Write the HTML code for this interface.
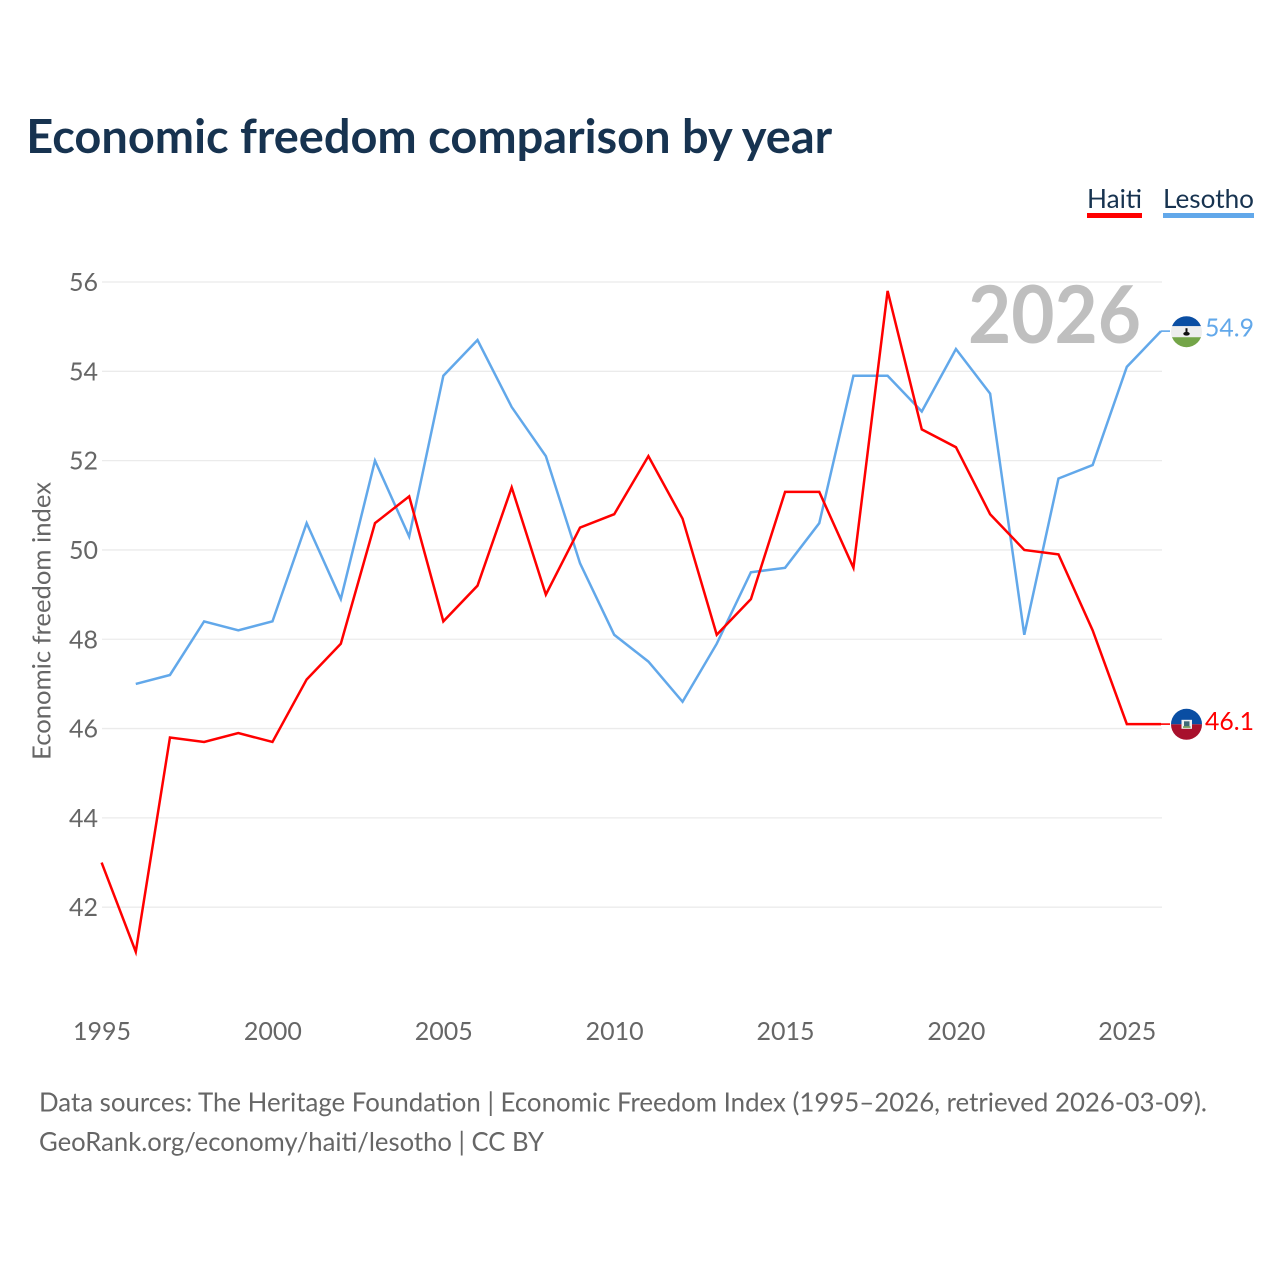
<!DOCTYPE html>
<html>
<head>
<meta charset="utf-8">
<title>Economic freedom comparison by year</title>
<style>
html,body{margin:0;padding:0;background:#fff;width:1280px;height:1280px;overflow:hidden}
svg{display:block;font-family:"Lato","Carlito","Liberation Sans",sans-serif}
</style>
</head>
<body>
<svg id="chart" width="1280" height="1280" viewBox="0 0 1280 1280" xmlns="http://www.w3.org/2000/svg">
  <defs>
    <clipPath id="flag-clip"><circle cx="0" cy="0" r="15.5"/></clipPath>
  </defs>
  <text x="26.2" y="153" font-size="47" font-weight="700" fill="#173350" textLength="806" lengthAdjust="spacingAndGlyphs">Economic freedom comparison by year</text>
  <g>
    <g>
      <text x="1087" y="208" font-size="26" fill="#173350" textLength="55" lengthAdjust="spacingAndGlyphs">Haiti</text>
      <rect x="1087" y="213" width="55" height="5" fill="#ff0000"/>
    </g>
    <g>
      <text x="1163" y="208" font-size="26" fill="#173350" textLength="91" lengthAdjust="spacingAndGlyphs">Lesotho</text>
      <rect x="1163" y="213" width="91" height="5" fill="#62a8ea"/>
    </g>
  </g>
  <g id="grid"></g>
  <text x="968" y="343" font-size="80" font-weight="700" fill="#bfbfbf" textLength="173" lengthAdjust="spacingAndGlyphs">2026</text>
  <g id="y-axis"></g>
  <g id="x-axis"></g>
  <text transform="translate(50.5,760) rotate(-90)" x="0" y="0" font-size="25" fill="#666666" textLength="278" lengthAdjust="spacingAndGlyphs">Economic freedom index</text>
  <g id="series"></g>
  <g id="end-labels"></g>
  <text x="39" y="1111.5" font-size="26" fill="#666666" textLength="1168" lengthAdjust="spacingAndGlyphs">Data sources: The Heritage Foundation | Economic Freedom Index (1995–2026, retrieved 2026-03-09).</text>
  <text x="39" y="1151" font-size="26" fill="#666666" textLength="505" lengthAdjust="spacingAndGlyphs">GeoRank.org/economy/haiti/lesotho | CC BY</text>
</svg>
<script>
const years = [1995,1996,1997,1998,1999,2000,2001,2002,2003,2004,2005,2006,2007,2008,2009,2010,2011,2012,2013,2014,2015,2016,2017,2018,2019,2020,2021,2022,2023,2024,2025,2026];
const haitiValues = [43,41,45.8,45.7,45.9,45.7,47.1,47.9,50.6,51.2,48.4,49.2,51.4,49,50.5,50.8,52.1,50.7,48.1,48.9,51.3,51.3,49.6,55.8,52.7,52.3,50.8,50,49.9,48.2,46.1,46.1];
const lesothoValues = [null,47,47.2,48.4,48.2,48.4,50.6,48.9,52,50.3,53.9,54.7,53.2,52.1,49.7,48.1,47.5,46.6,47.9,49.5,49.6,50.6,53.9,53.9,53.1,54.5,53.5,48.1,51.6,51.9,54.1,54.9];
const yTicks = [42,44,46,48,50,52,54,56];
const xTicks = [1995,2000,2005,2010,2015,2020,2025];

const NS = 'http://www.w3.org/2000/svg';
function xScale(year){ return 101.6 + (year - 1995) * (1161 - 101.6) / 31; }
function yScale(value){ return 282 + (56 - value) * (907.2 - 282) / 14; }
function make(tag, attrs, parent){
  const el = document.createElementNS(NS, tag);
  for (const k in attrs) el.setAttribute(k, attrs[k]);
  parent.appendChild(el);
  return el;
}
const gridG = document.getElementById('grid');
const yG = document.getElementById('y-axis');
const xG = document.getElementById('x-axis');
const seriesG = document.getElementById('series');
const endG = document.getElementById('end-labels');

yTicks.forEach(function(t){
  const line = make('line', {x1:102, x2:1162, y1:yScale(t), y2:yScale(t), stroke:'#ebebeb', 'stroke-width':1.3}, gridG);
  
  
  const label = make('text', {x:98, y:yScale(t)+9, 'text-anchor':'end', 'font-size':25, fill:'#666666'}, yG);
  
  
  label.textContent = t;
});
xTicks.forEach(function(t){
  const label = make('text', {x:xScale(t)+0.4, y:1040, 'text-anchor':'middle', 'font-size':25, fill:'#666666'}, xG);
  
  
  label.textContent = t;
});
function linePoints(values){
  const pts = [];
  values.forEach(function(v, i){
    if (v !== null) pts.push(xScale(years[i]).toFixed(2) + ',' + yScale(v).toFixed(2));
  });
  return pts;
}
function lastValue(values){ return values[values.length - 1]; }

const lesothoLine = make('polyline', {points:linePoints(lesothoValues).join(' '), fill:'none', stroke:'#62a8ea', 'stroke-width':2.5, 'stroke-linejoin':'miter'}, seriesG);


const lesothoConnector = make('line', {x1:1161, x2:1170, y1:yScale(lastValue(lesothoValues)), y2:yScale(lastValue(lesothoValues)), stroke:'#62a8ea', 'stroke-width':1.6}, seriesG);


const haitiLine = make('polyline', {points:linePoints(haitiValues).join(' '), fill:'none', stroke:'#ff0000', 'stroke-width':2.5, 'stroke-linejoin':'miter'}, seriesG);


const haitiConnector = make('line', {x1:1161, x2:1170, y1:yScale(lastValue(haitiValues)), y2:yScale(lastValue(haitiValues)), stroke:'#ff0000', 'stroke-width':1.6}, seriesG);



// Lesotho end flag + value
const lesothoY = yScale(lastValue(lesothoValues));
const lesothoFlag = make('g', {transform:'translate(1186.5,' + (lesothoY+0.6).toFixed(2) + ')', 'clip-path':'url(#flag-clip)'}, endG);


make('rect', {x:-16, y:-16, width:32, height:10.5, fill:'#0a4ea3'}, lesothoFlag);
make('rect', {x:-16, y:-5.5, width:32, height:11, fill:'#eeeeee'}, lesothoFlag);
make('rect', {x:-16, y:5.5, width:32, height:10.5, fill:'#74a548'}, lesothoFlag);
make('rect', {x:-1, y:-3.5, width:2, height:5, fill:'#111111'}, lesothoFlag);
make('ellipse', {cx:0, cy:2, rx:3.2, ry:1.9, fill:'#111111'}, lesothoFlag);
const lesothoValue = make('text', {x:1205, y:(lesothoY+5.5).toFixed(2), 'font-size':25.5, fill:'#62a8ea', textLength:49, lengthAdjust:'spacingAndGlyphs'}, endG);


lesothoValue.textContent = lastValue(lesothoValues).toFixed(1);

// Haiti end flag + value
const haitiY = yScale(lastValue(haitiValues));
const haitiFlag = make('g', {transform:'translate(1186.5,' + (haitiY+0.2).toFixed(2) + ')', 'clip-path':'url(#flag-clip)'}, endG);


make('rect', {x:-16, y:-16, width:32, height:16, fill:'#0a4ea3'}, haitiFlag);
make('rect', {x:-16, y:0, width:32, height:16, fill:'#a8102c'}, haitiFlag);
make('rect', {x:-5, y:-4.5, width:10.5, height:9, fill:'#f2f2f2'}, haitiFlag);
make('rect', {x:-2.5, y:-3, width:5.5, height:5, fill:'#3f6b78'}, haitiFlag);
make('rect', {x:-3.5, y:2, width:7.5, height:1.5, fill:'#6d9a4e'}, haitiFlag);
const haitiValue = make('text', {x:1205, y:(haitiY+6).toFixed(2), 'font-size':25.5, fill:'#ff0000', textLength:49, lengthAdjust:'spacingAndGlyphs'}, endG);


haitiValue.textContent = lastValue(haitiValues).toFixed(1);
</script>
</body>
</html>
